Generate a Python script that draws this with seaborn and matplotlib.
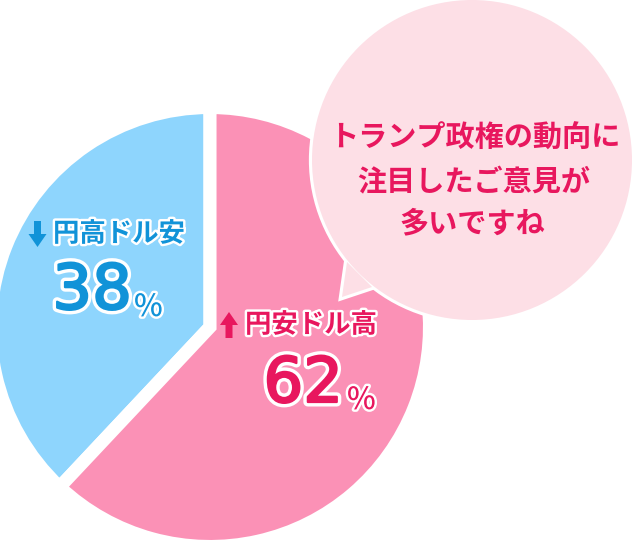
import matplotlib
matplotlib.use("Agg")
import matplotlib.pyplot as plt
import matplotlib.patheffects as pe
from matplotlib.patches import Circle, Polygon, FancyArrow
import seaborn as sns

# data
labels = ["円高ドル安", "円安ドル高"]
shares = [38, 62]
arrow_dir = [1, -1]          # 1 = down, -1 = up
slice_colors = ["#8ED5FD", "#FB91B6"]
text_colors = ["#1193D8", "#E8175E"]
bubble_lines = ["トランプ政権の動向に", "注目したご意見が", "多いですね"]

W, H = 634, 540


def px(x, y):
    # pixel position (y measured from top) -> data coords
    return (x, H - y)


sns.set_theme(style="white")
plt.rcParams['font.family'] = ['Noto Sans CJK JP', 'DejaVu Sans']

fig = plt.figure(figsize=(W / 100, H / 100), dpi=100)
ax = fig.add_axes([0, 0, 1, 1])

# pie, white edges make the gap between the two slices
ax.pie(
    shares,
    colors=slice_colors,
    startangle=90,
    counterclock=True,
    center=px(210, 327),
    radius=219.5,
    wedgeprops=dict(edgecolor="white", linewidth=9.4),
)

ax.set_xlim(0, W)
ax.set_ylim(0, H)
ax.set_aspect("equal")
ax.axis("off")

outline = [pe.withStroke(linewidth=3.5, foreground="white")]

# slice labels: (arrow x, label x, label y, number right x, number base, pct x, pct base)
label_pos = [
    (37.5, 53, 234, 132, 309, 134, 316),
    (229, 245, 325, 343, 402, 347, 409),
]
for i, (arr_x, lx, ly, nx, ny, pcx, pcy) in enumerate(label_pos):
    c = text_colors[i]
    d = arrow_dir[i]
    x0, y0 = px(arr_x, ly - d * 13)
    ax.add_patch(FancyArrow(x0, y0, 0, -d * 26, width=7, head_width=18,
                            head_length=13, length_includes_head=True,
                            color=c, lw=0, zorder=5))
    ax.text(*px(lx, ly), labels[i], color=c, fontsize=19, fontweight="bold",
            ha="left", va="center", path_effects=outline, zorder=5)
    num_fx = [pe.Stroke(linewidth=6.5, foreground="white"),
              pe.Stroke(linewidth=1.6, foreground=c), pe.Normal()]
    ax.text(*px(nx, ny), str(shares[i]), color=c, fontsize=45,
            family="DejaVu Sans", fontweight="normal", ha="right",
            va="baseline", path_effects=num_fx, zorder=5)
    ax.text(*px(pcx, pcy), "%", color=c, fontsize=22, fontweight="medium",
            ha="left", va="baseline", path_effects=outline, zorder=5)

# speech bubble
bub_c = px(472, 160)
bub_r = 160
tail = [px(347, 262), px(342, 297), px(372, 287)]
bub_fill = "#FDDFE6"
ax.add_patch(Circle(bub_c, bub_r, fc=bub_fill, ec="white", lw=4.5, zorder=6))
ax.add_patch(Polygon(tail, closed=True, fc=bub_fill, ec="white", lw=4.5,
                     joinstyle="miter", zorder=6))
ax.add_patch(Circle(bub_c, bub_r, fc=bub_fill, ec="none", zorder=7))
ax.add_patch(Polygon(tail, closed=True, fc=bub_fill, ec="none", zorder=7))

line_y = [138, 182, 223]
line_x = [475, 474, 472]
for txt, x, y in zip(bubble_lines, line_x, line_y):
    ax.text(*px(x, y), txt, color="#E8175E", fontsize=21, fontweight="bold",
            ha="center", va="center", zorder=8)

fig.savefig("out.png", dpi=100)
